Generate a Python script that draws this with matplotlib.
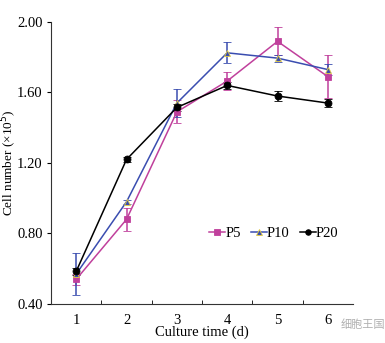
import matplotlib

matplotlib.use("Agg")
import matplotlib.pyplot as plt  # noqa: E402
from matplotlib.lines import Line2D  # noqa: E402
import numpy as np

# cell counts (x10^5) per day for three passages, mean and error
days = [1, 2, 3, 4, 5, 6]
p5 = [0.54, 0.88, 1.49, 1.665, 1.89, 1.69]
p5_err = [0.03, 0.065, 0.065, 0.05, 0.08, 0.12]
p10 = [0.57, 0.98, 1.54, 1.825, 1.795, 1.73]
p10_err = [0.12, 0.01, 0.08, 0.06, 0.02, 0.03]
p20 = [0.585, 1.22, 1.515, 1.64, 1.58, 1.54]
p20_err = [0.02, 0.015, 0.02, 0.02, 0.03, 0.025]

yticks = [0.40, 0.80, 1.20, 1.60, 2.00]

plt.rcParams["font.family"] = ["Liberation Serif", "DejaVu Serif"]

fig = plt.figure(figsize=(3.85, 3.43), dpi=100)
ax = fig.add_axes([0.1325, 0.1137, 0.7845, 0.8222])

series = [
    ("P5", p5, p5_err, "#C0409C", "s", "#C0409C"),
    ("P10", p10, p10_err, "#3A4DB0", "^", "#E8D040"),
    ("P20", p20, p20_err, "black", "o", "black"),
]
handles = []
for label, vals, err, color, marker, edge in series:
    ax.errorbar(
        days, vals, yerr=err, color=color, marker=marker, markersize=5,
        markeredgecolor=edge, markeredgewidth=0.6, linewidth=1.1,
        elinewidth=1.1, capsize=3, capthick=1.1,
    )
    handles.append(Line2D([], [], color=color, marker=marker, markersize=4,
                          markeredgecolor=edge, markeredgewidth=0.6,
                          linewidth=1.1, label=label))

ax.set_xlim(0.5, 6.5)
ax.set_ylim(0.40, 2.00)
ax.set_xticks(days)
ax.set_xticks(np.arange(1.5, 6, 1.0), minor=True)
ax.set_yticks(yticks)
ax.set_yticklabels([f"{v:.2f}" for v in yticks])
ax.tick_params(axis="x", which="major", length=0, pad=7, labelsize=10.5)
ax.tick_params(axis="x", which="minor", direction="in", length=3)
ax.tick_params(axis="y", direction="out", length=3, pad=3, labelsize=10.5)

for side in ("top", "right"):
    ax.spines[side].set_visible(False)
for side in ("left", "bottom"):
    ax.spines[side].set_linewidth(0.8)
    ax.spines[side].set_color("#333333")

ax.set_xlabel("Culture time (d)", fontsize=10.5, labelpad=-1)
ax.set_ylabel("Cell number (×10$^5$)", fontsize=9.5)
ax.yaxis.set_label_coords(-0.105, 0.5)

ax.legend(
    handles=handles, loc="center left", bbox_to_anchor=(0.49, 0.25), ncol=3,
    frameon=False, handlelength=1.1, handletextpad=0.0, columnspacing=0.7,
    fontsize=10.5, borderpad=0.2,
)

fig.text(0.885, 0.045, "细胞王国", fontsize=8, color="#b0b0b0", ha="left",
         family=["Noto Sans CJK SC", "DejaVu Sans"])

fig.savefig("out.png", dpi=100)
